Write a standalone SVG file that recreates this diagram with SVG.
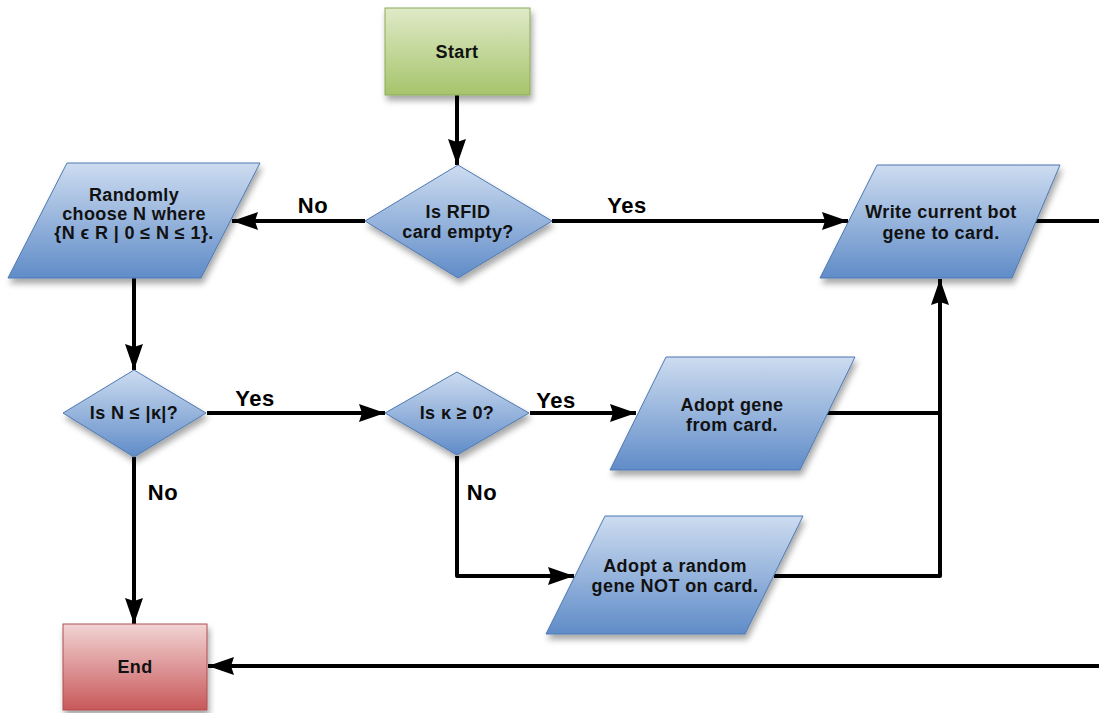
<svg xmlns="http://www.w3.org/2000/svg" width="1099" height="713" viewBox="0 0 1099 713">
  <style>
    .node-text { font-family: "Liberation Sans", Arial, sans-serif; font-weight: bold; font-size: 18px; letter-spacing: 0.4px; fill: #111; text-anchor: middle; }
    .label { font-family: "Liberation Sans", Arial, sans-serif; font-weight: bold; font-size: 22px; letter-spacing: 0.5px; fill: #000; text-anchor: middle; }
    .wire { fill: none; stroke: #000; stroke-width: 4; stroke-linejoin: round; }
    .arrow { fill: none; stroke: #000; stroke-width: 4; stroke-linejoin: round; marker-end: url(#head); }
    .blue { fill: url(#gBlue); stroke: #4d79b3; stroke-width: 1; filter: url(#shadow); }
    .green { fill: url(#gGreen); stroke: #8cab58; stroke-width: 1; filter: url(#shadow); }
    .red { fill: url(#gRed); stroke: #b04e50; stroke-width: 1; filter: url(#shadow); }
  </style>
  <defs>
    <linearGradient id="gBlue" x1="0" y1="0" x2="0" y2="1">
      <stop offset="0" stop-color="#cddcf0"/>
      <stop offset="1" stop-color="#608cc8"/>
    </linearGradient>
    <linearGradient id="gGreen" x1="0" y1="0" x2="0" y2="1">
      <stop offset="0" stop-color="#dfeac8"/>
      <stop offset="1" stop-color="#a6c46b"/>
    </linearGradient>
    <linearGradient id="gRed" x1="0" y1="0" x2="0" y2="1">
      <stop offset="0" stop-color="#f2d4d4"/>
      <stop offset="1" stop-color="#c8585a"/>
    </linearGradient>
    <filter id="shadow" x="-20%" y="-20%" width="140%" height="150%">
      <feDropShadow dx="2" dy="5" stdDeviation="3" flood-color="#000" flood-opacity="0.35"/>
    </filter>
    <marker id="head" viewBox="0 0 26 18" refX="26" refY="9" markerWidth="26" markerHeight="18" markerUnits="userSpaceOnUse" orient="auto">
      <path d="M0,0 L26,9 L0,18 L3,9 Z" fill="#000"/>
    </marker>
  </defs>

  <!-- connectors and their branch labels -->
  <g id="connectors">
    <path class="arrow" d="M457,95 L457,165"/>
    <path class="arrow" d="M365,221 L232,221"/>
    <path class="arrow" d="M552,221 L848,221"/>
    <path class="wire" d="M1035,221 L1099,221"/>
    <path class="arrow" d="M1099,666 L208,666"/>
    <path class="arrow" d="M134,278 L134,370"/>
    <path class="arrow" d="M207,413 L385,413"/>
    <path class="arrow" d="M134,457 L134,624"/>
    <path class="arrow" d="M530,413 L636,413"/>
    <path class="arrow" d="M457,456 L457,576 L574,576"/>
    <path class="wire" d="M826,413 L940,413"/>
    <path class="arrow" d="M774,576 L940,576 L940,279"/>
    <text class="label" x="313" y="213">No</text>
    <text class="label" x="627" y="213">Yes</text>
    <text class="label" x="255" y="406">Yes</text>
    <text class="label" x="163" y="500">No</text>
    <text class="label" x="556" y="408">Yes</text>
    <text class="label" x="482" y="500">No</text>
  </g>

  <g id="start">
    <rect class="green" x="385" y="8" width="145" height="87"/>
    <text class="node-text" x="457" y="58">Start</text>
  </g>

  <g id="rfid-empty">
    <polygon class="blue" points="458,165 552,221 458,278 365,221"/>
    <text class="node-text" x="458" y="218">Is RFID</text>
    <text class="node-text" x="458" y="238">card empty?</text>
  </g>

  <g id="choose-n">
    <polygon class="blue" points="67,163 260,163 201,278 8,278"/>
    <text class="node-text" x="134" y="201">Randomly</text>
    <text class="node-text" x="134" y="220">choose N where</text>
    <text class="node-text" x="134" y="239">{N ϵ R | 0 ≤ N ≤ 1}.</text>
  </g>

  <g id="write-gene">
    <polygon class="blue" points="877,165 1060,165 1012,278 820,278"/>
    <text class="node-text" x="941" y="218">Write current bot</text>
    <text class="node-text" x="941" y="239">gene to card.</text>
  </g>

  <g id="n-le-kappa">
    <polygon class="blue" points="134,370 206,413 134,457 63,413"/>
    <text class="node-text" x="134" y="419">Is N ≤ |κ|?</text>
  </g>

  <g id="kappa-ge-zero">
    <polygon class="blue" points="457,372 529,413 457,455 385,413"/>
    <text class="node-text" x="457" y="419">Is κ ≥ 0?</text>
  </g>

  <g id="adopt-gene">
    <polygon class="blue" points="666,357 855,357 800,470 610,470"/>
    <text class="node-text" x="732" y="411">Adopt gene</text>
    <text class="node-text" x="732" y="431">from card.</text>
  </g>

  <g id="adopt-random">
    <polygon class="blue" points="605,516 803,516 745,634 546,634"/>
    <text class="node-text" x="675" y="572">Adopt a random</text>
    <text class="node-text" x="675" y="592">gene NOT on card.</text>
  </g>

  <g id="end">
    <rect class="red" x="63" y="624" width="144" height="86"/>
    <text class="node-text" x="135" y="673">End</text>
  </g>
</svg>
